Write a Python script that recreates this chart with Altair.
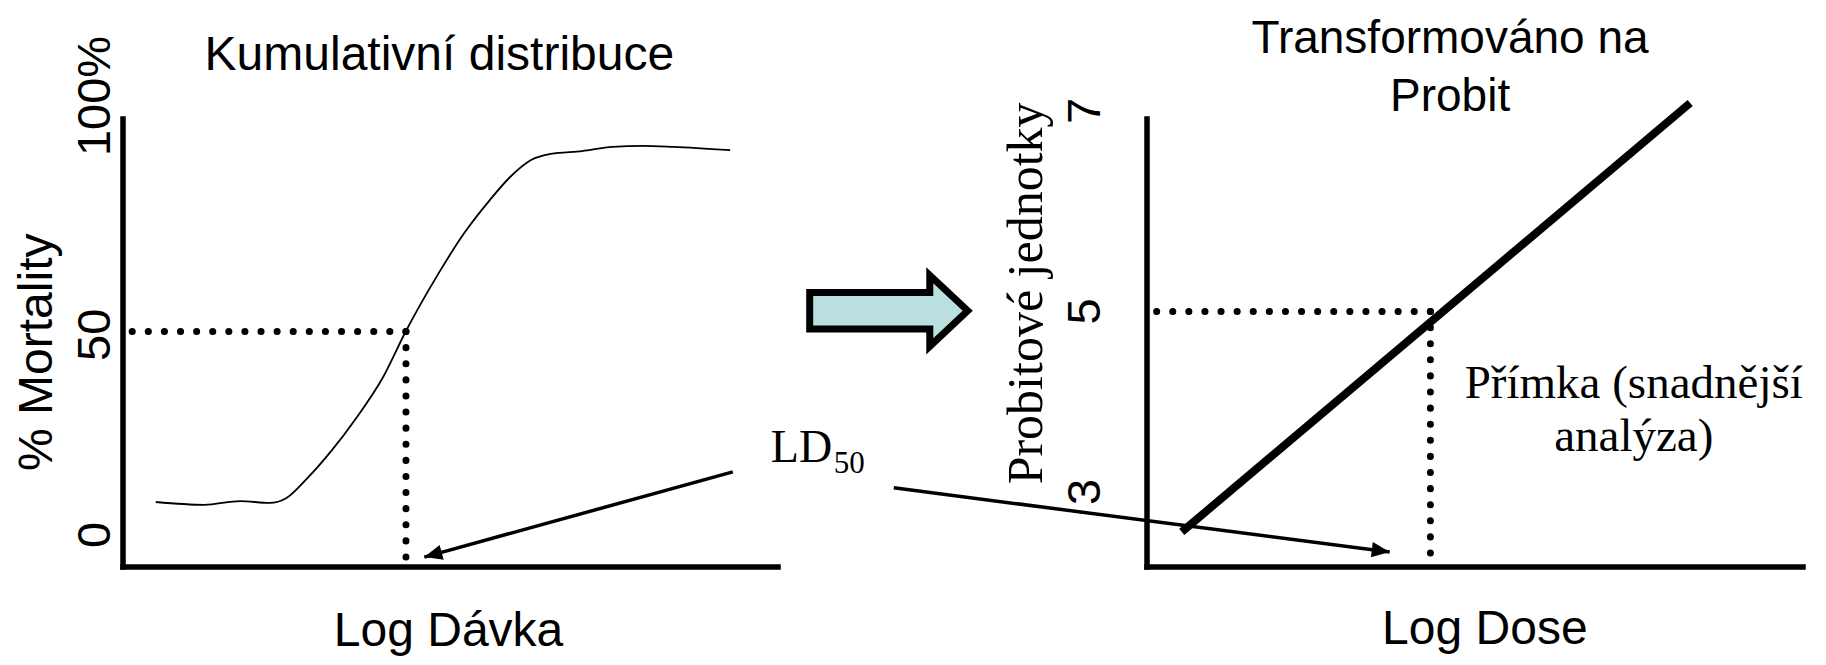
import altair as alt
import pandas as pd

# ---------------- data ----------------
# Left panel: cumulative distribution (log dose units 0-10, % mortality)
curve_dose = [0.50, 1.24, 1.79, 2.24, 2.49, 2.79, 3.19, 3.57, 3.97, 4.32, 4.82,
              5.21, 5.60, 5.91, 6.23, 6.53, 7.01, 7.47, 7.94, 8.40, 9.27]
curve_mort = [13.8, 13.2, 14.0, 13.6, 14.6, 18.5, 24.8, 31.8, 40.3, 50.1, 62.4,
              70.9, 77.9, 82.8, 86.4, 87.7, 88.3, 89.2, 89.4, 89.2, 88.5]
ld50_dose = 4.32
mort_tick_labels = ["100%", "50", "0"]
mort_tick_values = [100, 49.3, 6.8]

# Right panel: probit transformed (log dose units 0-10, probit units)
probit_line_dose = [0.53, 8.28]
probit_line_val = [2.80, 7.08]
probit_tick_labels = ["7", "5", "3"]
probit_tick_values = [7, 5, 3.2]

SANS = "Liberation Sans"
SERIF = "Liberation Serif"

# scales (each panel has its own, placed side by side on one canvas)
LX = alt.Scale(domain=[0, 10], range=[115, 770])
LY = alt.Scale(domain=[0, 100], range=[559, 88])
RX = alt.Scale(domain=[0, 10], range=[1139, 1795])
RY = alt.Scale(domain=[2.45, 7], range=[559, 103])


def enc(panel, two=False):
    sx, sy = (LX, LY) if panel == "L" else (RX, RY)
    e = dict(x=alt.X("x:Q", scale=sx, axis=None),
             y=alt.Y("y:Q", scale=sy, axis=None))
    if two:
        e["x2"] = "x2:Q"
        e["y2"] = "y2:Q"
    return e


def segs(rows):
    return pd.DataFrame(rows, columns=["x", "y", "x2", "y2"])


def pts(xs, ys, texts=None):
    d = {"x": xs, "y": ys}
    if texts is not None:
        d["t"] = texts
    return pd.DataFrame(d)


layers = []

# ---- axes lines ----
layers.append(alt.Chart(segs([[0, 0, 0, 95.1], [0, 0, 10, 0]]))
              .mark_rule(color="black", strokeWidth=5.5, strokeCap="square")
              .encode(**enc("L", True)))
layers.append(alt.Chart(segs([[0, 2.45, 0, 6.92], [0, 2.45, 10, 2.45]]))
              .mark_rule(color="black", strokeWidth=5.5, strokeCap="square")
              .encode(**enc("R", True)))

# ---- dotted guide lines ----
dot = dict(color="black", strokeWidth=7, strokeCap="round", strokeDash=[0.1, 16])
layers.append(alt.Chart(segs([[ld50_dose, 50, 0, 50], [ld50_dose, 50, ld50_dose, 1.7]]))
              .mark_rule(**dot).encode(**enc("L", True)))
layers.append(alt.Chart(segs([[ld50_dose, 5, 0, 5], [ld50_dose, 5, ld50_dose, 2.54]]))
              .mark_rule(**dot).encode(**enc("R", True)))

# ---- cumulative curve ----
layers.append(alt.Chart(pts(curve_dose, curve_mort))
              .mark_line(color="black", strokeWidth=1.8, interpolate="monotone")
              .encode(**enc("L")))

# ---- probit straight line ----
layers.append(alt.Chart(pts(probit_line_dose, probit_line_val))
              .mark_line(color="black", strokeWidth=8, strokeCap="butt")
              .encode(**enc("R")))

# ---- LD50 arrows ----
head = "M0,0L-2,-0.85L-2,0.85Z"
layers.append(alt.Chart(segs([[9.31, 20.2, 4.60, 2.1]]))
              .mark_rule(color="black", strokeWidth=3.5).encode(**enc("L", True)))
layers.append(alt.Chart(pts([4.60], [2.1]))
              .mark_point(shape=head, size=324, angle=164.6, filled=True,
                          color="black", opacity=1, strokeWidth=0)
              .encode(**enc("L")))
layers.append(alt.Chart(segs([[-3.86, 3.24, 3.70, 2.60]]))
              .mark_rule(color="black", strokeWidth=3.5).encode(**enc("R", True)))
layers.append(alt.Chart(pts([3.70], [2.60]))
              .mark_point(shape=head, size=324, angle=7.35, filled=True,
                          color="black", opacity=1, strokeWidth=0)
              .encode(**enc("R")))

# ---- big block arrow between the panels ----
block = "M-1,-0.23L0.52,-0.23L0.52,-0.45L1,0L0.52,0.45L0.52,0.23L-1,0.23Z"
layers.append(alt.Chart(pts([11.69], [54.4]))
              .mark_point(shape=block, size=24964, fill="#b9dfe1", stroke="black",
                          strokeWidth=7, strokeJoin="miter", opacity=1, fillOpacity=1)
              .encode(**enc("L")))

# ---- texts: left panel ----
def text_layer(df, panel, **kw):
    return (alt.Chart(df).mark_text(color="black", **kw)
            .encode(text="t:N", **enc(panel)))

layers.append(text_layer(pts([4.83], [105.5], ["Kumulativní distribuce"]), "L",
                         font=SANS, fontSize=48, align="center", baseline="alphabetic"))
layers.append(text_layer(pts([4.97], [-16.8], ["Log Dávka"]), "L",
                         font=SANS, fontSize=48, align="center", baseline="alphabetic"))
layers.append(text_layer(pts([-1.08], [45.6], ["% Mortality"]), "L",
                         font=SANS, fontSize=48, align="center", baseline="alphabetic", angle=270))
layers.append(text_layer(pts([-0.20] * 3, mort_tick_values, mort_tick_labels), "L",
                         font=SANS, fontSize=47, align="center", baseline="alphabetic", angle=270))
layers.append(text_layer(pts([9.89], [22.3], ["LD"]), "L",
                         font=SERIF, fontSize=46, align="left", baseline="alphabetic"))
layers.append(text_layer(pts([10.85], [20.0], ["50"]), "L",
                         font=SERIF, fontSize=31, align="left", baseline="alphabetic"))

# ---- texts: right panel ----
layers.append(text_layer(pts([4.62, 4.62], [7.58, 7.0], ["Transformováno na", "Probit"]), "R",
                         font=SANS, fontSize=46, align="center", baseline="alphabetic"))
layers.append(text_layer(pts([5.15], [1.68], ["Log Dose"]), "R",
                         font=SANS, fontSize=48, align="center", baseline="alphabetic"))
layers.append(text_layer(pts([-1.60], [5.18], ["Probitové jednotky"]), "R",
                         font=SERIF, fontSize=50, align="center", baseline="alphabetic", angle=270))
layers.append(text_layer(pts([-0.72] * 3, probit_tick_values, probit_tick_labels), "R",
                         font=SANS, fontSize=47, align="center", baseline="alphabetic", angle=270))
layers.append(text_layer(pts([7.42, 7.42], [4.14, 3.61], ["Přímka (snadnější", "analýza)"]), "R",
                         font=SERIF, fontSize=47, align="center", baseline="alphabetic"))

chart = (alt.layer(*layers)
         .resolve_scale(x="independent", y="independent")
         .properties(width=1810, height=649, padding=0,
                     autosize=alt.AutoSizeParams(type="none"),
                     background="white")
         .configure_view(stroke=None))

chart.save("out.html", embed_options={"renderer": "svg", "actions": False})
